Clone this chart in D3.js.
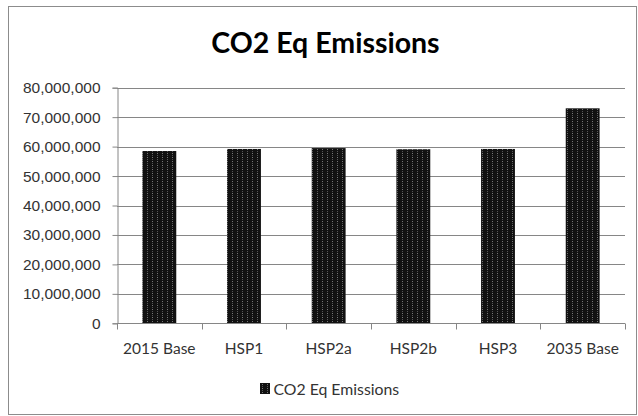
<!DOCTYPE html>
<html>
<head>
<meta charset="utf-8">
<script src="https://cdn.jsdelivr.net/npm/d3@7"></script>
<style>
  html, body { margin: 0; padding: 0; background: #fff; }
  svg { display: block; font-family: Lato, "Noto Sans", sans-serif; }
</style>
</head>
<body>
<svg id="chart" width="638" height="416"></svg>
<script>
// Scenario emissions (tonnes CO2 equivalent)
const categories = ["2015 Base", "HSP1", "HSP2a", "HSP2b", "HSP3", "2035 Base"];
const emissions = [58500000, 59200000, 59500000, 59100000, 59200000, 73000000];
const yTicks = [0, 10000000, 20000000, 30000000, 40000000, 50000000, 60000000, 70000000, 80000000];
const seriesName = "CO2 Eq Emissions";
const chartTitle = "CO2 Eq Emissions";

const svg = d3.select("#chart");
const plot = { left: 117, right: 625, top: 87.7, bottom: 323.3 };
const axisColor = "#868686";
const textColor = "#333";

// Dotted-grid pattern used for the bar fill
const defs = svg.append("defs");
const pat = defs.append("pattern")
  .attr("id", "dots")
  .attr("patternUnits", "userSpaceOnUse")
  .attr("width", 5).attr("height", 4);
pat.append("rect").attr("width", 5).attr("height", 4).attr("fill", "#111");
pat.append("rect").attr("x", 2).attr("y", 1).attr("width", 1).attr("height", 1).attr("fill", "#777");
pat.append("rect").attr("x", 2).attr("y", 3).attr("width", 1).attr("height", 1).attr("fill", "#555");

// Outer frame
svg.append("rect")
  .attr("x", 8.5).attr("y", 6.5)
  .attr("width", 628).attr("height", 408)
  .attr("fill", "#fff").attr("stroke", "#8c8c8c").attr("stroke-width", 1);

const x = d3.scaleBand()
  .domain(categories)
  .range([plot.left, plot.right])
  .paddingInner(0.6).paddingOuter(0.3);

const y = d3.scaleLinear()
  .domain([0, 80000000])
  .range([plot.bottom, plot.top]);

// Horizontal gridlines
svg.append("g")
  .selectAll("line")
  .data(yTicks.filter(d => d > 0))
  .join("line")
  .attr("x1", plot.left).attr("x2", plot.right)
  .attr("y1", d => Math.round(y(d)) + 0.5).attr("y2", d => Math.round(y(d)) + 0.5)
  .attr("stroke", axisColor).attr("stroke-width", 1);

// Y axis
const yAxis = svg.append("g")
  .attr("transform", `translate(${plot.left + 0.5},0)`)
  .call(d3.axisLeft(y).tickValues(yTicks).tickSize(5).tickPadding(12)
    .tickFormat(d3.format(",")));
yAxis.select(".domain").attr("stroke", axisColor);
yAxis.selectAll(".tick line").attr("stroke", axisColor);
yAxis.selectAll(".tick text")
  .attr("fill", textColor)
  .style("font-size", "15.5px");

// Bars
svg.append("g")
  .selectAll("rect")
  .data(categories.map((c, i) => ({ c, v: emissions[i] })))
  .join("rect")
  .attr("x", d => x(d.c))
  .attr("width", x.bandwidth())
  .attr("y", d => y(d.v))
  .attr("height", d => y(0) - y(d.v))
  .attr("fill", "url(#dots)");

// X axis with ticks on the category boundaries
const xAxisG = svg.append("g")
  .attr("transform", `translate(0,${Math.round(plot.bottom) + 0.5})`);
xAxisG.append("line")
  .attr("x1", plot.left).attr("x2", plot.right)
  .attr("stroke", axisColor);
const step = x.step();
const boundaries = d3.range(categories.length + 1).map(i => plot.left + i * step);
xAxisG.selectAll("line.tk")
  .data(boundaries)
  .join("line")
  .attr("class", "tk")
  .attr("x1", d => Math.round(d) + 0.5).attr("x2", d => Math.round(d) + 0.5)
  .attr("y1", 0).attr("y2", 6)
  .attr("stroke", axisColor);
xAxisG.selectAll("text")
  .data(categories)
  .join("text")
  .attr("x", d => x(d) + x.bandwidth() / 2)
  .attr("y", 30)
  .attr("text-anchor", "middle")
  .attr("fill", textColor)
  .style("font-size", "15.5px")
  .text(d => d);

// Title
svg.append("text")
  .attr("x", 325.5).attr("y", 53)
  .attr("text-anchor", "middle")
  .attr("fill", "#000")
  .style("font-size", "28.5px")
  .style("font-weight", "bold")
  .text(chartTitle);

// Legend
const lg = svg.append("g").attr("transform", "translate(260,383)");
lg.append("rect").attr("width", 10).attr("height", 11).attr("fill", "url(#dots)");
lg.append("text")
  .attr("x", 13.5).attr("y", 12)
  .attr("fill", textColor)
  .style("font-size", "15.8px")
  .text(seriesName);
</script>
</body>
</html>
